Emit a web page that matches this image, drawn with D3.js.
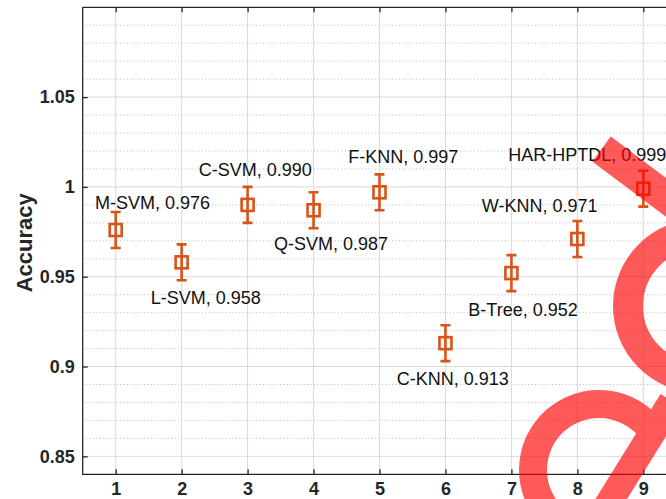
<!DOCTYPE html>
<html><head><meta charset="utf-8">
<script src="https://cdn.jsdelivr.net/npm/d3@7/dist/d3.min.js"></script>
<style>html,body{margin:0;padding:0;background:#fff;overflow:hidden}</style>
</head><body>
<svg id="chart" width="666" height="499"></svg>
<script>
// ---- data ----
const categories = [1, 2, 3, 4, 5, 6, 7, 8, 9];
const methods = ["M-SVM", "L-SVM", "C-SVM", "Q-SVM", "F-KNN", "C-KNN", "B-Tree", "W-KNN", "HAR-HPTDL"];
const accuracy = [0.976, 0.958, 0.990, 0.987, 0.997, 0.913, 0.952, 0.971, 0.999];
const errorBar = [0.010, 0.010, 0.010, 0.010, 0.010, 0.010, 0.010, 0.010, 0.010];
// text anchors (data units): left edge x, baseline y
const labelX = [0.686, 1.531, 2.259, 3.400, 4.527, 5.261, 6.347, 6.550, 6.953];
const labelY = [0.9879, 0.9346, 1.0059, 0.9646, 1.0133, 0.8895, 0.9279, 0.9860, 1.0142];
const yTicks = [0.85, 0.9, 0.95, 1, 1.05];
const yTickLabels = ["0.85", "0.9", "0.95", "1", "1.05"];
const xTickLabels = ["1", "2", "3", "4", "5", "6", "7", "8", "9"];
const yMinor = d3.range(85, 110).filter(v => v % 5 !== 0).map(v => v / 100);
const yLabel = "Accuracy";

// ---- layout ----
const svg = d3.select("#chart");
const L = 82.7, R = 676.3, T = 7.3, B = 474.3;
const x = d3.scaleLinear().domain([0.5, 9.5]).range([L, R]);
const y = d3.scaleLinear().domain([0.84, 1.1]).range([B, T]);
const font = "'Liberation Sans', Arial, Helvetica, sans-serif";
const mc = "#D95319";

// grid
const g = svg.append("g");
g.selectAll("line.minor").data(yMinor).join("line")
  .attr("x1", L).attr("x2", R).attr("y1", d => y(d)).attr("y2", d => y(d))
  .attr("stroke", "#c4c4c4").attr("stroke-width", 1).attr("stroke-dasharray", "1.2,2.2");
g.selectAll("line.hy").data(yTicks).join("line")
  .attr("x1", L).attr("x2", R).attr("y1", d => y(d)).attr("y2", d => y(d))
  .attr("stroke", "#dadada").attr("stroke-width", 1);
g.selectAll("line.vx").data(categories).join("line")
  .attr("y1", T).attr("y2", B).attr("x1", d => x(d)).attr("x2", d => x(d))
  .attr("stroke", "#dadada").attr("stroke-width", 1);

// axes
const ax = svg.append("g").attr("transform", `translate(0,${B})`)
  .call(d3.axisBottom(x).tickValues(categories).tickFormat((d, i) => xTickLabels[i]).tickSize(-5).tickPadding(8));
const ay = svg.append("g").attr("transform", `translate(${L},0)`)
  .call(d3.axisLeft(y).tickValues(yTicks).tickFormat((d, i) => yTickLabels[i]).tickSize(-5).tickPadding(8));
const at = svg.append("g").attr("transform", `translate(0,${T})`)
  .call(d3.axisTop(x).tickValues(categories).tickFormat("").tickSize(-5));
[ax, ay, at].forEach(a => {
  a.select(".domain").remove();
  a.selectAll(".tick line").attr("stroke", "#262626").attr("stroke-width", 1.3);
  a.selectAll("text").attr("font-family", font).attr("font-size", 18).attr("font-weight", "bold").attr("fill", "#262626");
});
svg.append("path").attr("d", `M${L},${T}H${R}M${L},${T}V${B}H${R}`)
  .attr("fill", "none").attr("stroke", "#262626").attr("stroke-width", 1.3);

// y label
svg.append("text").attr("transform", `translate(32,${(T + B) / 2 + 2}) rotate(-90)`)
  .attr("text-anchor", "middle").attr("font-family", font).attr("font-size", 22)
  .attr("font-weight", "bold").attr("fill", "#262626").text(yLabel);

// error bars + markers
const pts = svg.append("g");
const idx = d3.range(categories.length);
pts.selectAll("path.eb").data(idx).join("path")
  .attr("d", i => {
    const cx = x(categories[i]), y1 = y(accuracy[i] + errorBar[i]), y2 = y(accuracy[i] - errorBar[i]);
    return `M${cx},${y1}V${y2}M${cx - 5},${y1}H${cx + 5}M${cx - 5},${y2}H${cx + 5}`;
  })
  .attr("fill", "none").attr("stroke", mc).attr("stroke-width", 2.6);
pts.selectAll("rect").data(idx).join("rect")
  .attr("x", i => x(categories[i]) - 6).attr("y", i => y(accuracy[i]) - 6)
  .attr("width", 12).attr("height", 12)
  .attr("fill", "none").attr("stroke", mc).attr("stroke-width", 2.6);

// labels
svg.append("g").selectAll("text").data(idx).join("text")
  .attr("x", i => x(labelX[i])).attr("y", i => y(labelY[i]))
  .attr("font-family", font).attr("font-size", 18).attr("fill", "#111")
  .text(i => `${methods[i]}, ${accuracy[i].toFixed(3)}`);

// red overlay (decorative stamp on the reference image)
const wm = svg.append("g").attr("opacity", 0.65);
const red = "#ff0000";
wm.append("path").attr("d", "M601.5,149L740,253")
  .attr("stroke", red).attr("stroke-width", 31).attr("fill", "none");
wm.append("circle").attr("cx", 700).attr("cy", 306).attr("r", 72)
  .attr("stroke", red).attr("stroke-width", 30).attr("fill", "none");
wm.append("path").attr("transform", "translate(599,470)")
  .attr("d", d3.arc().innerRadius(52).outerRadius(80).startAngle(-2.4).endAngle(0.95)())
  .attr("fill", red);
wm.append("path").attr("d", "M597,522L672,401")
  .attr("stroke", red).attr("stroke-width", 27).attr("fill", "none");
</script>
</body></html>
